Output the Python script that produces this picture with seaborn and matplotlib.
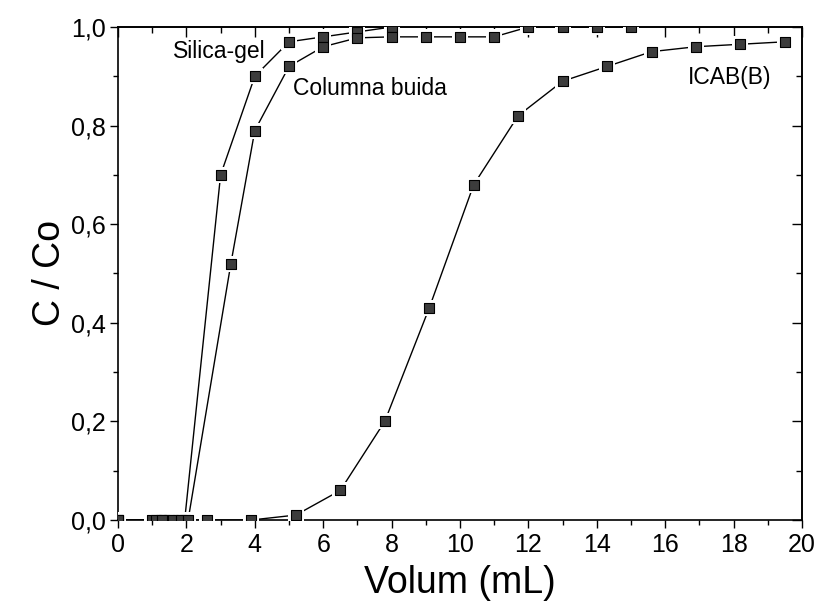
import matplotlib
matplotlib.use("Agg")
import matplotlib.pyplot as plt
import seaborn as sns
import pandas as pd
from matplotlib.ticker import MultipleLocator, FuncFormatter

# ---- data ----
silica_x = [0, 1.0, 1.25, 1.5, 1.75, 1.95, 3.0, 4.0, 5.0, 6.0, 7.0, 8.0]
silica_y = [0, 0, 0, 0, 0, 0, 0.70, 0.90, 0.97, 0.98, 0.99, 1.0]

columna_x = [0, 1.1, 1.35, 1.6, 1.85, 2.05, 3.3, 4.0, 5.0, 6.0, 7.0, 8.0, 9.0, 10.0, 11.0, 12.0, 13.0, 14.0, 15.0]
columna_y = [0, 0, 0, 0, 0, 0, 0.52, 0.79, 0.92, 0.96, 0.978, 0.98, 0.98, 0.98, 0.98, 1.0, 1.0, 1.0, 1.0]

icab_x = [0, 1.3, 2.6, 3.9, 5.2, 6.5, 7.8, 9.1, 10.4, 11.7, 13.0, 14.3, 15.6, 16.9, 18.2, 19.5]
icab_y = [0, 0, 0, 0, 0.01, 0.06, 0.20, 0.43, 0.68, 0.82, 0.89, 0.92, 0.95, 0.96, 0.965, 0.97]

series_names = ["Silica-gel", "Columna buida", "ICAB(B)"]
label_pos = [(1.62, 0.95), (5.12, 0.876), (16.67, 0.897)]

xticks = list(range(0, 21, 2))
yticks = [0.0, 0.2, 0.4, 0.6, 0.8, 1.0]

sns.set_style("ticks")
plt.rcParams["font.family"] = ["Liberation Sans", "DejaVu Sans"]
plt.rcParams["text.color"] = "black"
plt.rcParams["axes.labelcolor"] = "black"
plt.rcParams["xtick.color"] = "black"
plt.rcParams["ytick.color"] = "black"

frames = []
for name, xs, ys in zip(series_names, [silica_x, columna_x, icab_x], [silica_y, columna_y, icab_y]):
    frames.append(pd.DataFrame({"x": xs, "y": ys, "serie": name}))
df = pd.concat(frames, ignore_index=True)

fig = plt.figure(figsize=(8.17, 6.10), dpi=100)
ax = fig.add_axes([118 / 817, 90 / 610, 684 / 817, 493 / 610])

for name in series_names:
    sub = df[df["serie"] == name]
    sns.lineplot(data=sub, x="x", y="y", ax=ax, color="black", linewidth=1.0,
                 sort=False, estimator=None, legend=False, zorder=2)
# white halo behind markers to create gaps in lines
sns.scatterplot(data=df, x="x", y="y", ax=ax, marker="s", s=120, color="white",
                edgecolor="white", linewidth=0, legend=False, zorder=3)
sns.scatterplot(data=df, x="x", y="y", ax=ax, marker="s", s=42, color="#3c3c3c",
                edgecolor="black", linewidth=0.8, legend=False, zorder=4)

for name, (tx, ty) in zip(series_names, label_pos):
    ax.text(tx, ty, name, fontsize=16.5, ha="left", va="center", color="black", zorder=5)

ax.set_xlim(0, 20)
ax.set_ylim(0, 1.0)
ax.set_xticks(xticks)
ax.set_yticks(yticks)
ax.xaxis.set_minor_locator(MultipleLocator(1))
ax.yaxis.set_minor_locator(MultipleLocator(0.1))
ax.yaxis.set_major_formatter(FuncFormatter(lambda v, p: f"{v:.1f}".replace(".", ",")))
ax.xaxis.set_major_formatter(FuncFormatter(lambda v, p: f"{int(round(v))}"))
ax.tick_params(which="major", direction="out", length=6, width=1.0, labelsize=18, pad=3,
               colors="black")
ax.tick_params(which="minor", direction="out", length=3.5, width=1.0, colors="black")
for sp in ax.spines.values():
    sp.set_visible(True)
    sp.set_linewidth(1.2)
    sp.set_color("black")

# inward ticks on top and right
top = ax.secondary_xaxis("top")
top.set_xticks(xticks)
top.xaxis.set_minor_locator(MultipleLocator(1))
top.tick_params(which="major", direction="in", length=7, width=1.0, labeltop=False, colors="black")
top.tick_params(which="minor", direction="in", length=4, width=1.0, colors="black")
top.spines["top"].set_linewidth(1.2)
top.spines["top"].set_color("black")
right = ax.secondary_yaxis("right")
right.set_yticks(yticks)
right.yaxis.set_minor_locator(MultipleLocator(0.1))
right.tick_params(which="major", direction="in", length=7, width=1.0, labelright=False, colors="black")
right.tick_params(which="minor", direction="in", length=4, width=1.0, colors="black")
right.spines["right"].set_linewidth(1.2)
right.spines["right"].set_color("black")

ax.set_xlabel("Volum (mL)", fontsize=27, labelpad=6, color="black")
ax.set_ylabel("C / Co", fontsize=27, labelpad=2, color="black")

fig.savefig("out.png", dpi=100, facecolor="white")
